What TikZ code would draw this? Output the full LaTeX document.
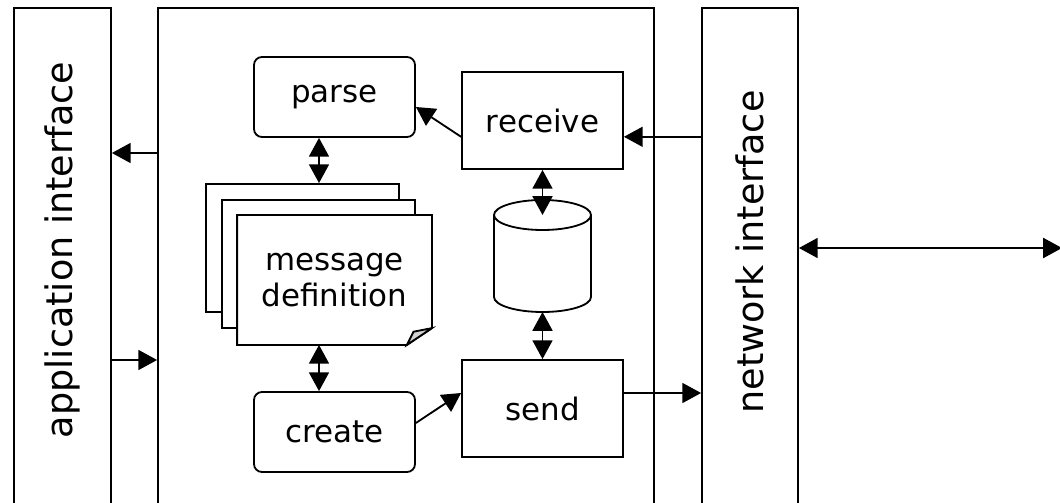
\documentclass[tikz,border=0pt]{standalone}
\usepackage{fontspec}
\setmainfont{DejaVu Sans}
\usetikzlibrary{arrows.meta}
\begin{document}
\begin{tikzpicture}[
  line width=1.3pt,
  tall/.style={rectangle,draw,minimum height=12.85cm},
  side/.style={rotate=90,font=\fontsize{26}{31}\selectfont},
  task/.style={rectangle,draw,minimum width=4.025cm,minimum height=2.425cm,font=\fontsize{22}{26}\selectfont},
  rtask/.style={task,rounded corners=0.2cm,minimum height=2cm},
  page/.style={rectangle,draw,fill=white,minimum width=4.825cm,minimum height=3.2cm},
  arr/.style={-{Triangle[length=4.7mm,width=5mm]}},
  dblarr/.style={{Triangle[length=4.7mm,width=5mm]}-{Triangle[length=4.7mm,width=5mm]}}
]
  \useasboundingbox (0,0) rectangle (26.5,12.55);
  % draw application interface box
  \node at(1.5625,5.925)[tall,minimum width=2.425cm](appif){};
  \node at(1.5625,6.3)[side](appiftext){application interface};
  % draw main box
  \node at(10.15,5.925)[tall,minimum width=12.4cm](mainbox){};
  % draw network interface box
  \node at(18.75,5.925)[tall,minimum width=2.4cm](netif){};
  \node at(18.75,6.25)[side](netiftext){network interface};
  % draw parse and create boxes
  \node at(8.3625,10.125)[rtask](parse){parse};
  \node at(8.3625,1.75)[rtask](create){create};
  % draw receive and send boxes
  \node at(13.5625,9.5375)[task](receive){receive};
  \node at(13.5625,2.3375)[task](send){send};
  % draw storage cylinder
  \node at(13.5625,6.15)[rectangle,outer sep=0pt,minimum width=2.425cm,minimum height=2.8cm](db){};
  \draw ([yshift=-0.375cm]db.north) ellipse [x radius=1.2125cm,y radius=0.375cm];
  \draw ([yshift=-0.375cm]db.north west) -- ([yshift=0.375cm]db.south west) arc[start angle=180,end angle=360,x radius=1.2125cm,y radius=0.375cm] -- ([yshift=-0.375cm]db.north east);
  % draw message definition pages
  \node at(7.5625,6.35)[page](msgback){};
  \node at(7.9625,5.95)[page](msgmid){};
  \node at(8.3625,5.55)[page,draw=none,fill=none](msgdef){};
  \draw[fill=white] (msgdef.north west) -- (msgdef.north east) -- ([yshift=0.42cm]msgdef.south east) -- ([xshift=-0.625cm]msgdef.south east) -- (msgdef.south west) -- cycle;
  \draw[fill=gray!35] ([xshift=-0.625cm]msgdef.south east) -- ([xshift=-0.46cm,yshift=0.33cm]msgdef.south east) -- ([yshift=0.42cm]msgdef.south east) -- cycle;
  \node at(msgdef)[align=center,font=\fontsize{22}{26}\selectfont](msgtext){message\\definition};
  % helper coordinates for arrow heights
  \coordinate (up) at (0,8.725);
  \coordinate (ain) at (0,3.55);
  \coordinate (rin) at (0,9.13);
  \coordinate (sout) at (0,2.725);
  \coordinate (stackx) at (7.975,0);
  \coordinate (netout) at (26.55,6.35);
  % draw arrows between the interfaces
  \draw[arr] (mainbox.west |- up) -- (appif.east |- up);
  \draw[arr] (appif.east |- ain) -- (mainbox.west |- ain);
  \draw[arr] (netif.west |- rin) -- (receive.east |- rin);
  \draw[arr] (send.east |- sout) -- (netif.west |- sout);
  \draw[dblarr] (netif.east |- netout) -- (netout);
  % draw arrows inside main box
  \draw[arr] (receive.west |- rin) -- ([yshift=-0.25cm]parse.east);
  \draw[arr] ([yshift=0.225cm]create.east) -- (send.west |- sout);
  \draw[dblarr] (stackx |- parse.south) -- (stackx |- msgback.north);
  \draw[dblarr] (stackx |- msgdef.south) -- (stackx |- create.north);
  \draw[dblarr] (receive.south) -- ([yshift=-0.375cm]db.north);
  \draw[dblarr] (db.south) -- (send.north);
\end{tikzpicture}
\end{document}
